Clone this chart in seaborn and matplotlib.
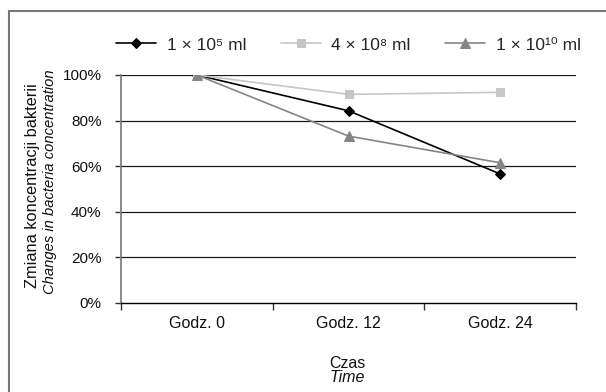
import matplotlib
matplotlib.use("Agg")
import matplotlib.pyplot as plt
import seaborn as sns
import pandas as pd
from matplotlib.lines import Line2D
from matplotlib.ticker import FixedLocator, PercentFormatter

categories = ["Godz. 0", "Godz. 12", "Godz. 24"]
series_names = ["1 × 10⁵ ml", "4 × 10⁸ ml", "1 × 10¹⁰ ml"]
s1 = [1.00, 0.843, 0.566]
s2 = [1.00, 0.915, 0.924]
s3 = [1.00, 0.732, 0.615]
y_ticks = [0, 0.2, 0.4, 0.6, 0.8, 1.0]

sns.set_theme(style="white")
FONT = ["Liberation Sans", "DejaVu Sans"]
plt.rcParams["font.family"] = FONT

fig = plt.figure(figsize=(6.06, 3.92), dpi=100)
fig.patch.set_facecolor("white")
ax = fig.add_axes([121 / 606, 1 - 303 / 392, (576 - 121) / 606, (303 - 75) / 392])

styles = [
    dict(color="#000000", marker="D", markersize=5.5),
    dict(color="#c6c6c6", marker="s", markersize=5.5),
    dict(color="#858585", marker="^", markersize=6.5),
]
for name, vals, st in zip(series_names, [s1, s2, s3], styles):
    df = pd.DataFrame({"x": categories, "y": vals})
    sns.lineplot(data=df, x="x", y="y", ax=ax, sort=False, color=st["color"],
                 marker=st["marker"], markersize=st["markersize"],
                 markeredgecolor=st["color"], markerfacecolor=st["color"],
                 linewidth=1.2, label=name)

ax.set_xlim(-0.5, 2.5)
ax.set_ylim(0, 1.0)
ax.yaxis.set_major_locator(FixedLocator(y_ticks))
ax.yaxis.set_major_formatter(PercentFormatter(1.0, decimals=0))
for y in y_ticks[1:]:
    ax.axhline(y, color="#1a1a1a", linewidth=0.9, zorder=0)

ax.set_xticks([0, 1, 2])
ax.set_xticklabels(categories)
ax.set_xticks([-0.5, 0.5, 1.5, 2.5], minor=True)
ax.tick_params(axis="x", which="major", length=0, pad=9, labelsize=11.5, colors="#111111")
ax.tick_params(axis="x", which="minor", length=5, width=1, direction="out", color="#333333", bottom=True)
ax.tick_params(axis="y", which="major", length=4, width=1, direction="out", color="#333333", left=True,
               pad=10, labelsize=11, labelcolor="#111111")

for side in ["top", "right"]:
    ax.spines[side].set_visible(False)
ax.spines["left"].set_color("#777777")
ax.spines["left"].set_linewidth(1.2)
ax.spines["bottom"].set_color("#000000")
ax.spines["bottom"].set_linewidth(1.0)
ax.set_xlabel("")
ax.set_ylabel("")

leg = ax.legend(loc="center", bbox_to_anchor=(0.5, 1 + (75 - 45) / 228), ncol=3, frameon=False,
                prop=dict(family=FONT, size=12.5), handlelength=2.3, columnspacing=2.0, handletextpad=0.6)

fig.text(33 / 606, 1 - 186 / 392, "Zmiana koncentracji bakterii", rotation=90, ha="center", va="center",
         fontsize=11.8, color="#111111")
fig.text(50 / 606, 1 - 182 / 392, "Changes in bacteria concentration", rotation=90, ha="center", va="center",
         fontsize=10.6, style="italic", color="#111111")
fig.text(347 / 606, 1 - 363 / 392, "Czas", ha="center", va="center", fontsize=11.5, color="#111111")
fig.text(347 / 606, 1 - 377 / 392, "Time", ha="center", va="center", fontsize=11.5, style="italic", color="#111111")

fig.add_artist(Line2D([8.5 / 606, 8.5 / 606], [0, 1 - 10.5 / 392], transform=fig.transFigure,
                      color="#777777", linewidth=1.5))
fig.add_artist(Line2D([8.5 / 606, 1], [1 - 10.5 / 392, 1 - 10.5 / 392], transform=fig.transFigure,
                      color="#777777", linewidth=1.5))

fig.savefig("out.png", dpi=100, facecolor="white")
